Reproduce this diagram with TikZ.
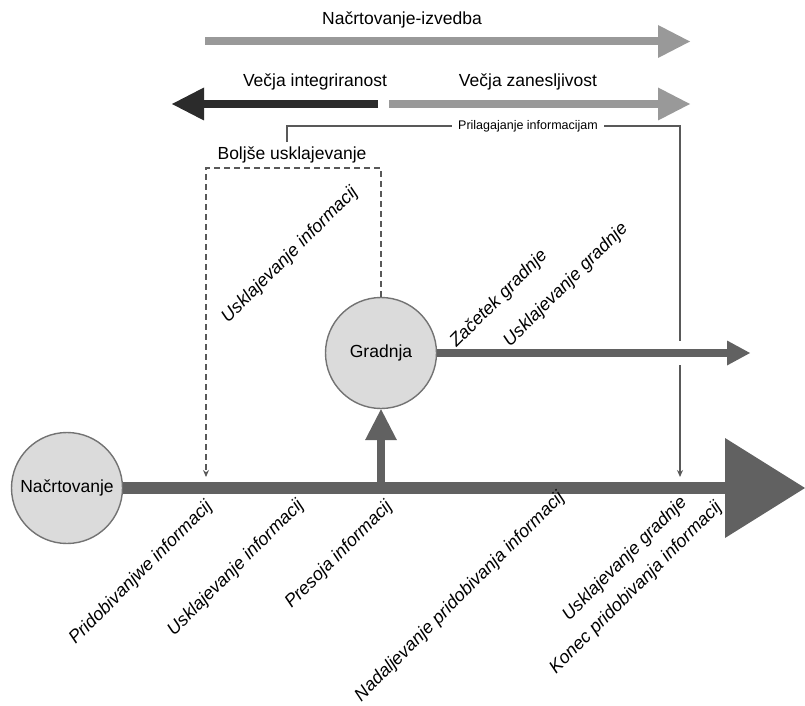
\documentclass[tikz,border=0pt]{standalone}
\usepackage{fontspec}
\setmainfont{Liberation Sans}
\usetikzlibrary{arrows.meta}

\definecolor{lightgrey}{gray}{0.6}
\definecolor{darkgrey}{gray}{0.17}
\definecolor{midgrey}{gray}{0.38}
\definecolor{ballfill}{gray}{0.86}

\begin{document}
\begin{tikzpicture}[x=1pt,y=-1pt]
  \tikzstyle{every node}+=[inner sep=1pt, font=\fontsize{17.5}{20}\selectfont]
  \tikzstyle{phase}=[circle, draw=black!55, line width=1.4pt, fill=ballfill, minimum size=111pt, inner sep=0pt]
  \tikzstyle{tag}=[rotate=45, inner sep=0pt, font=\fontsize{18}{20}\selectfont\itshape]
  \tikzstyle{band}=[line width=8pt, -{Triangle[length=32pt,width=33pt,line width=0pt]}]
  \useasboundingbox (0,0) rectangle (805,706);

  \node [phase] (plan) at (67,488) {Načrtovanje};
  \node [phase] (build) at (381,353) {Gradnja};

  % upper bands
  \coordinate (ta) at (205,41.5);
  \coordinate (tb) at (690,41.5);
  \draw [band, lightgrey] (ta) -- (tb);
  \node (design) at (402,20) {Načrtovanje-izvedba};
  \coordinate (ia) at (378,104);
  \coordinate (ib) at (172,104);
  \draw [band, darkgrey] (ia) -- (ib);
  \coordinate (ra) at (389,104);
  \coordinate (rb) at (690,104);
  \draw [band, lightgrey] (ra) -- (rb);
  \node (integ) at (315,82) {Večja integriranost};
  \node (relia) at (528,82) {Večja zanesljivost};

  % feedback lines
  \coordinate (fa) at (287,142);
  \coordinate (fc) at (680,126);
  \coordinate (fb) at (680,477);
  \draw [black!65, line width=1.2pt, -{Stealth[length=7pt,width=6pt]}] (fa) |- (fc) -- (fb);
  \node [fill=white, inner xsep=6pt, font=\fontsize{12.5}{14}\selectfont] (adapt) at (528,126) {Prilagajanje informacijam};
  \coordinate (dc) at (206,168);
  \coordinate (db) at (206,477);
  \draw [black!65, line width=1.4pt, dash pattern=on 6pt off 4pt, -{Stealth[length=7pt,width=6pt]}] (build.north) |- (dc) -- (db);
  \node (better) at (292,155) {Boljše usklajevanje};

  % main flow
  \fill [white] (675,341) rectangle (685,365);
  \coordinate (gend) at (750,353);
  \draw [midgrey, line width=8pt, -{Triangle[length=23pt,width=25pt,line width=0pt]}] (build.east) -- (gend);
  \coordinate (up) at (381,488);
  \draw [midgrey, line width=8pt, -{Triangle[length=31pt,width=32pt,line width=0pt]}] (up) -- (build.south);
  \coordinate (mend) at (805,488);
  \draw [midgrey, line width=12pt, -{Triangle[length=80pt,width=100pt,line width=0pt]}] (plan.east) -- (mend);

  % labels
  \node [tag] (boxsync) at (290,255) {Usklajevanje informacij};
  \node [tag] (begin) at (499,299) {Začetek gradnje};
  \node [tag] (bsync) at (566,285) {Usklajevanje gradnje};
  \node [tag] (acq) at (141,573) {Pridobivanjwe informacij};
  \node [tag] (align) at (236,568) {Usklajevanje informacij};
  \node [tag] (assess) at (339,555) {Presoja informacij};
  \node [tag] (cont) at (460,597) {Nadaljevanje pridobivanja informacij};
  \node [tag] (bsync2) at (625,559) {Usklajevanje gradnje};
  \node [tag] (fin) at (636,588) {Konec pridobivanja informacij};
\end{tikzpicture}
\end{document}
